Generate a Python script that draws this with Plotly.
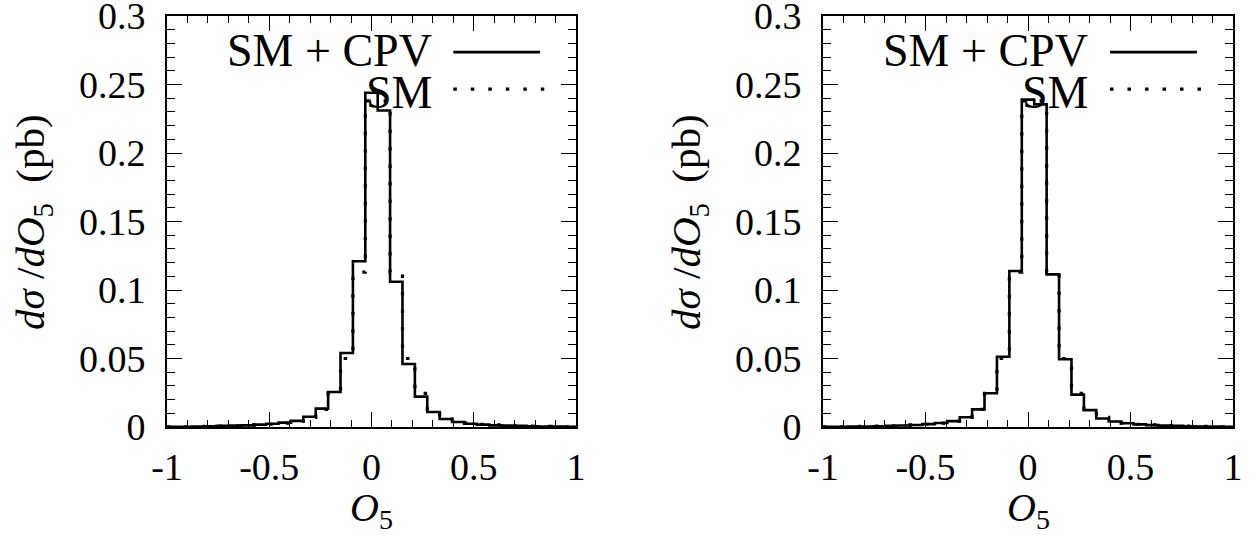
import numpy as np
import plotly.graph_objects as go

# 33 equal bins on [-1, 1]
bin_edges = np.linspace(-1, 1, 34)

sm_values = [0.0001, 0.0002, 0.0003, 0.0004, 0.0006, 0.0008, 0.0011, 0.0015, 0.0020, 0.0028,
             0.0042, 0.0070, 0.0128, 0.0245, 0.0500, 0.1130, 0.2380, 0.2380, 0.1130, 0.0500,
             0.0245, 0.0128, 0.0070, 0.0042, 0.0028, 0.0020, 0.0015, 0.0011, 0.0008, 0.0006,
             0.0004, 0.0003, 0.0002]

cpv_left = [0.0001, 0.0002, 0.0003, 0.0005, 0.0008, 0.0010, 0.0012, 0.0017, 0.0024, 0.0032,
            0.0045, 0.0075, 0.0134, 0.0256, 0.0540, 0.1210, 0.2440, 0.2310, 0.1060, 0.0460,
            0.0222, 0.0110, 0.0058, 0.0037, 0.0024, 0.0017, 0.0012, 0.0010, 0.0008, 0.0006,
            0.0004, 0.0003, 0.0002]

cpv_right = [0.0001, 0.0002, 0.0003, 0.0004, 0.0006, 0.0008, 0.0011, 0.0015, 0.0021, 0.0029,
             0.0043, 0.0071, 0.0129, 0.0246, 0.0513, 0.1139, 0.2390, 0.2355, 0.1114, 0.0494,
             0.0236, 0.0123, 0.0062, 0.0040, 0.0027, 0.0019, 0.0014, 0.0010, 0.0008, 0.0006,
             0.0004, 0.0003, 0.0002]

x_tickvals = [-1, -0.5, 0, 0.5, 1]
x_ticktext = ["-1", "-0.5", "0", "0.5", "1"]
y_tickvals = [0, 0.05, 0.1, 0.15, 0.2, 0.25, 0.3]
y_ticktext = ["0", "0.05", "0.1", "0.15", "0.2", "0.25", "0.3"]

legend_labels = ["SM + CPV", "SM"]
x_title = "<i>O</i><sub>5</sub>"
y_title = "<i>dσ</i> /<i>dO</i><sub>5</sub>  (pb)"

FONT = "Liberation Serif"
W, H = 1258, 537
DOT = "3.5px,14px"

fig = go.Figure()

panels = [
    dict(cpv=cpv_left, sm=sm_values, xa="x", ya="y", xdom=[167 / W, 576 / W]),
    dict(cpv=cpv_right, sm=sm_values, xa="x2", ya="y2", xdom=[823 / W, 1233 / W]),
]
ydom = [1 - 427 / H, 1 - 16 / H]

def step_y(v):
    return list(v) + [v[-1]]

for i, p in enumerate(panels):
    fig.add_trace(go.Scatter(x=bin_edges, y=step_y(p["sm"]), mode="lines", line_shape="hv",
                             line=dict(color="black", width=3.2, dash=DOT),
                             xaxis=p["xa"], yaxis=p["ya"], showlegend=False))
    fig.add_trace(go.Scatter(x=bin_edges, y=step_y(p["cpv"]), mode="lines", line_shape="hv",
                             line=dict(color="black", width=2.6),
                             xaxis=p["xa"], yaxis=p["ya"], showlegend=False))

axis_common = dict(showline=True, linecolor="black", linewidth=1.6, mirror="allticks",
                   ticks="inside", tickcolor="black", tickwidth=1.3, showgrid=False,
                   zeroline=False, automargin=False, ticklabeloverflow="allow",
                   tickfont=dict(family=FONT, size=38, color="black"))

for i, p in enumerate(panels):
    sfx = "" if i == 0 else str(i + 1)
    fig.update_layout(**{
        "xaxis" + sfx: dict(axis_common, domain=p["xdom"], range=[-1, 1], anchor="y" + sfx,
                            tickvals=x_tickvals, ticktext=x_ticktext, ticklen=15,
                            minor=dict(dtick=0.1, ticklen=7, ticks="inside", tickcolor="black",
                                       tickwidth=1.3, showgrid=False),
                            ticklabelstandoff=6),
        "yaxis" + sfx: dict(axis_common, domain=ydom, range=[0, 0.30001], anchor="x" + sfx,
                            tickvals=y_tickvals, ticktext=y_ticktext, ticklen=15,
                            minor=dict(dtick=0.01, ticklen=8, ticks="inside", tickcolor="black",
                                       tickwidth=1.3, showgrid=False),
                            ticklabelstandoff=12),
    })

annotations = []
shapes = []
for i, p in enumerate(panels):
    sfx = "" if i == 0 else str(i + 1)
    xd = "x" + sfx + " domain"
    yd = "y" + sfx + " domain"
    # legend
    annotations.append(dict(x=0.652, y=0.917, xref=xd, yref=yd, text=legend_labels[0],
                            showarrow=False, xanchor="right", yanchor="middle",
                            font=dict(family=FONT, size=46, color="black")))
    annotations.append(dict(x=0.652, y=0.815, xref=xd, yref=yd, text=legend_labels[1],
                            showarrow=False, xanchor="right", yanchor="middle",
                            font=dict(family=FONT, size=46, color="black")))
    shapes.append(dict(type="line", xref=xd, yref=yd, x0=0.70, x1=0.912, y0=0.912, y1=0.912,
                       line=dict(color="black", width=2.6)))
    shapes.append(dict(type="line", xref=xd, yref=yd, x0=0.70, x1=0.93, y0=0.822, y1=0.822,
                       line=dict(color="black", width=3.2, dash=DOT)))
    # axis titles
    x0 = p["xdom"][0]
    x1 = p["xdom"][1]
    annotations.append(dict(x=(x0 + x1) / 2, y=1 - 510 / H, xref="paper", yref="paper",
                            text=x_title, showarrow=False, xanchor="center", yanchor="middle",
                            font=dict(family=FONT, size=40, color="black")))
    annotations.append(dict(x=x0 - 134 / W, y=1 - 222 / H, xref="paper", yref="paper",
                            text=y_title, showarrow=False, xanchor="center", yanchor="middle",
                            textangle=-90, font=dict(family=FONT, size=41, color="black")))

fig.update_layout(width=W, height=H, margin=dict(l=0, r=0, t=0, b=0),
                  paper_bgcolor="white", plot_bgcolor="white",
                  annotations=annotations, shapes=shapes, showlegend=False)

fig.write_html("out.html", config={"displayModeBar": False},
               post_script="document.body.style.margin='0px';document.body.style.overflow='hidden';")
